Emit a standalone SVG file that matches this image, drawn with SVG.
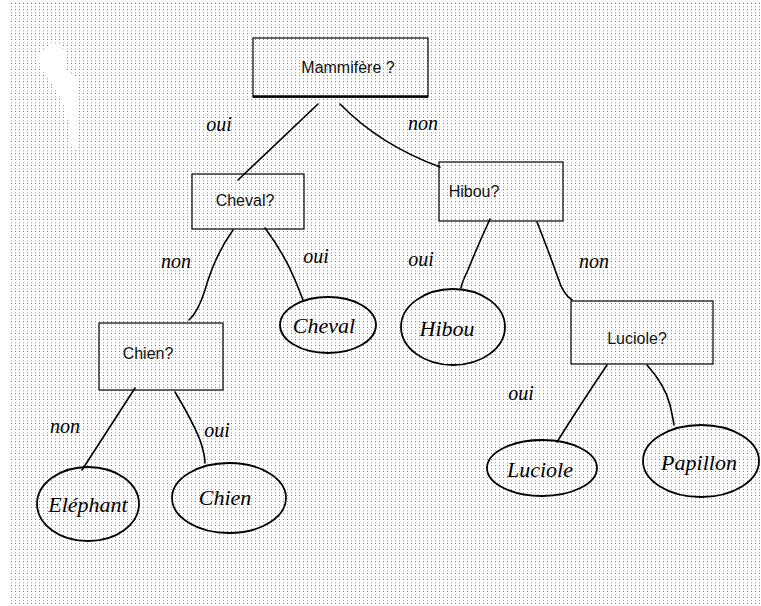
<svg xmlns="http://www.w3.org/2000/svg" width="761" height="606" viewBox="0 0 761 606">
<defs>
<pattern id="dots" x="11" y="3" width="4" height="6" patternUnits="userSpaceOnUse">
<rect x="0" y="0" width="1" height="1" fill="#7a7a7a"/>
<rect x="0" y="3" width="1" height="1.5" fill="#b8b8b8"/>
</pattern>
<style>
.box{fill:none;stroke:#000;stroke-width:1.2}
.edge{fill:none;stroke:#000;stroke-width:1.6;stroke-linecap:round}
.oval{fill:none;stroke:#000;stroke-width:1.8}
.t{font-family:"Liberation Sans",Arial,sans-serif;font-size:16px;fill:#111;text-anchor:middle}
.h{font-family:"Liberation Serif","DejaVu Serif",serif;font-style:italic;font-size:22px;fill:#000;text-anchor:middle}
.l{font-family:"Liberation Serif","DejaVu Serif",serif;font-style:italic;font-size:20px;fill:#000;text-anchor:middle}
</style>
</defs>
<rect width="761" height="606" fill="#fff"/>
<rect x="11" y="3" width="750" height="603" fill="url(#dots)"/>
<polygon points="50,43 62,45 66,55 65,70 78,80 78,100 77,150 72,150 68,120 62,100 50,80 40,65 37,55 45,50" fill="#fff"/>

<g id="connectors">
<path class="edge" d="M318,104 Q280,140 238,180"/>
<path class="edge" d="M340,104 Q380,145 440,167"/>
<path class="edge" d="M233,230 Q215,255 205,290 Q198,312 189,320"/>
<path class="edge" d="M265,228 Q285,255 295,280 Q300,292 303,300"/>
<path class="edge" d="M490,219 Q478,245 468,270 Q462,282 461,288"/>
<path class="edge" d="M537,222 Q550,255 558,278 Q563,294 572,300"/>
<path class="edge" d="M135,388 Q108,430 82,470"/>
<path class="edge" d="M175,392 Q192,420 200,440 Q205,455 205,463"/>
<path class="edge" d="M607,365 Q580,405 557,442"/>
<path class="edge" d="M647,365 Q665,385 670,405 Q673,418 674,425"/>
</g>

<g id="labels">
<text class="l" x="219" y="131">oui</text>
<text class="l" x="423" y="130">non</text>
<text class="l" x="176" y="268">non</text>
<text class="l" x="316" y="263">oui</text>
<text class="l" x="421" y="266">oui</text>
<text class="l" x="594" y="268">non</text>
<text class="l" x="521" y="400">oui</text>
<text class="l" x="65" y="433">non</text>
<text class="l" x="217" y="437">oui</text>
</g>

<g id="n-mammifere">
<rect class="box" x="253" y="38" width="175" height="59"/>
<line x1="253" y1="96.5" x2="428" y2="96.5" stroke="#000" stroke-width="2.5"/>
<text class="t" x="348" y="73">Mammifère ?</text>
</g>
<g id="n-cheval-q">
<rect class="box" x="192" y="174" width="112" height="55"/>
<text class="t" x="245" y="206">Cheval?</text>
</g>
<g id="n-hibou-q">
<rect class="box" x="439" y="162" width="124" height="59"/>
<text class="t" x="474" y="197">Hibou?</text>
</g>
<g id="n-chien-q">
<rect class="box" x="99" y="323" width="124" height="67"/>
<text class="t" x="148" y="359">Chien?</text>
</g>
<g id="n-luciole-q">
<rect class="box" x="571" y="301" width="142" height="63"/>
<text class="t" x="637" y="344">Luciole?</text>
</g>

<g id="n-cheval">
<ellipse class="oval" cx="328" cy="325" rx="48" ry="28"/>
<text class="h" x="324" y="333">Cheval</text>
</g>
<g id="n-hibou">
<ellipse class="oval" cx="453" cy="327" rx="52" ry="38"/>
<text class="h" x="447" y="336">Hibou</text>
</g>
<g id="n-elephant">
<ellipse class="oval" cx="88" cy="504" rx="51" ry="37"/>
<text class="h" x="88" y="512">Eléphant</text>
</g>
<g id="n-chien">
<ellipse class="oval" cx="229" cy="498" rx="57" ry="35"/>
<text class="h" x="225" y="505">Chien</text>
</g>
<g id="n-luciole">
<ellipse class="oval" cx="542" cy="468" rx="55" ry="28"/>
<text class="h" x="540" y="477">Luciole</text>
</g>
<g id="n-papillon">
<ellipse class="oval" cx="701" cy="461" rx="58" ry="36"/>
<text class="h" x="699" y="470">Papillon</text>
</g>
</svg>
